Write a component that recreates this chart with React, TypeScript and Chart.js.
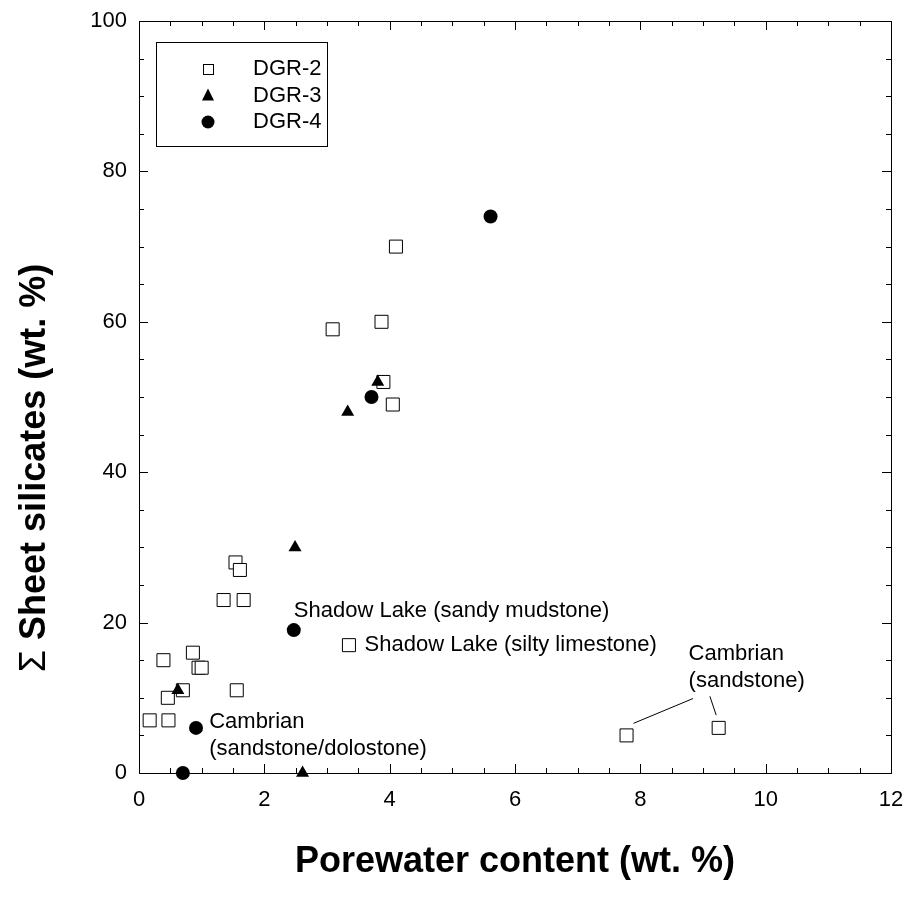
import React, { useEffect, useRef } from "react";
import { Chart, registerables } from "chart.js";

Chart.register(...registerables);

// ---- data ----
const dgr2X = [0.17, 0.47, 0.46, 0.70, 0.39, 0.86, 0.95, 1.0, 1.56, 1.35, 1.67, 1.54, 1.61, 3.35, 3.09, 3.87, 4.10, 3.90, 4.05, 7.78, 9.25];
const dgr2Y = [7, 7, 10, 11, 15, 16, 14, 14, 11, 23, 23, 28, 27, 17, 59, 60, 70, 52, 49, 5, 6];
const dgr3X = [0.62, 2.49, 3.33, 3.81, 2.61];
const dgr3Y = [11, 30, 48, 52, 0];
const dgr4X = [0.91, 0.70, 2.47, 3.71, 5.61];
const dgr4Y = [6, 0, 19, 50, 74];

const seriesNames = ["DGR-2", "DGR-3", "DGR-4"];

const xTickValues = [0, 2, 4, 6, 8, 10, 12];
const yTickValues = [0, 20, 40, 60, 80, 100];

const annotationTexts = [
  "Shadow Lake (sandy mudstone)",
  "Shadow Lake (silty limestone)",
  "Cambrian",
  "(sandstone/dolostone)",
  "Cambrian",
  "(sandstone)",
];
const annotationX = [2.47, 3.6, 1.12, 1.12, 8.77, 8.77];
const annotationY = [21.5, 17.0, 6.8, 3.2, 15.8, 12.2];

const leaderX1 = [7.89, 9.11];
const leaderY1 = [6.6, 10.2];
const leaderX2 = [8.84, 9.21];
const leaderY2 = [9.9, 7.7];

const xTitle = "Porewater content (wt. %)";
const yTitleSymbol = "\u03A3";
const yTitleText = "Sheet silicates (wt. %)";

const FONT = "'Liberation Sans', Arial, Helvetica, sans-serif";

const toPoints = (xs: number[], ys: number[]) => xs.map((x, i) => ({ x, y: ys[i] }));

function drawMarker(ctx: CanvasRenderingContext2D, kind: string, x: number, y: number) {
  ctx.save();
  ctx.lineWidth = 1;
  ctx.strokeStyle = "#000";
  ctx.fillStyle = "#000";
  if (kind === "rect") {
    ctx.fillStyle = "#fff";
    ctx.fillRect(x - 5, y - 5, 10, 10);
    ctx.strokeRect(x - 5 + 0.5, y - 5 + 0.5, 10, 10);
  } else if (kind === "triangle") {
    ctx.beginPath();
    ctx.moveTo(x, y - 7);
    ctx.lineTo(x - 6, y + 5);
    ctx.lineTo(x + 6, y + 5);
    ctx.closePath();
    ctx.fill();
  } else {
    ctx.beginPath();
    ctx.arc(x, y, 6.5, 0, Math.PI * 2);
    ctx.fill();
  }
  ctx.restore();
}

const framePlugin = {
  id: "frame",
  afterDatasetsDraw(chart: any) {
    const { ctx, chartArea } = chart;
    const xs = chart.scales.x;
    const ys = chart.scales.y;
    const { left, right, top, bottom } = chartArea;
    ctx.save();
    ctx.strokeStyle = "#000";
    ctx.lineWidth = 1;
    ctx.strokeRect(Math.round(left) + 0.5, Math.round(top) + 0.5, Math.round(right - left), Math.round(bottom - top));

    // inward ticks on all four sides
    ctx.beginPath();
    for (let v = 0; v <= 12.0001; v += 0.5) {
      const px = Math.round(xs.getPixelForValue(v)) + 0.5;
      const len = Math.abs(v % 2) < 1e-6 ? 9 : 5;
      ctx.moveTo(px, bottom);
      ctx.lineTo(px, bottom - len);
      ctx.moveTo(px, top);
      ctx.lineTo(px, top + len);
    }
    for (let v = 0; v <= 100.0001; v += 5) {
      const py = Math.round(ys.getPixelForValue(v)) + 0.5;
      const len = Math.abs(v % 20) < 1e-6 ? 9 : 5;
      ctx.moveTo(left, py);
      ctx.lineTo(left + len, py);
      ctx.moveTo(right, py);
      ctx.lineTo(right - len, py);
    }
    ctx.stroke();

    // leader lines
    ctx.beginPath();
    for (let i = 0; i < leaderX1.length; i++) {
      ctx.moveTo(xs.getPixelForValue(leaderX1[i]), ys.getPixelForValue(leaderY1[i]));
      ctx.lineTo(xs.getPixelForValue(leaderX2[i]), ys.getPixelForValue(leaderY2[i]));
    }
    ctx.stroke();

    // annotations
    ctx.fillStyle = "#000";
    ctx.font = `22px ${FONT}`;
    ctx.textAlign = "left";
    ctx.textBaseline = "middle";
    annotationTexts.forEach((t, i) => {
      ctx.fillText(t, xs.getPixelForValue(annotationX[i]), ys.getPixelForValue(annotationY[i]));
    });

    // legend
    const lx = left + 17;
    const ly = top + 21;
    ctx.fillStyle = "#fff";
    ctx.fillRect(lx, ly, 171, 104);
    ctx.strokeRect(lx + 0.5, ly + 0.5, 171, 104);
    const kinds = ["rect", "triangle", "circle"];
    ctx.fillStyle = "#000";
    ctx.font = `22px ${FONT}`;
    seriesNames.forEach((name, i) => {
      const ry = ly + 27 + i * 26.5;
      drawMarker(ctx, kinds[i], lx + 52, ry);
      ctx.fillStyle = "#000";
      ctx.fillText(name, lx + 97, ry);
    });

    // axis titles
    ctx.font = `bold 36px ${FONT}`;
    ctx.textAlign = "center";
    ctx.textBaseline = "middle";
    ctx.fillText(xTitle, (left + right) / 2, 862);

    ctx.translate(35, 468);
    ctx.rotate(-Math.PI / 2);
    ctx.font = `36px ${FONT}`;
    const symW = ctx.measureText(yTitleSymbol + " ").width;
    ctx.font = `bold 36px ${FONT}`;
    const txtW = ctx.measureText(yTitleText).width;
    const total = symW + txtW;
    ctx.textAlign = "left";
    ctx.font = `36px ${FONT}`;
    ctx.fillText(yTitleSymbol, -total / 2, 0);
    ctx.font = `bold 36px ${FONT}`;
    ctx.fillText(yTitleText, -total / 2 + symW, 0);
    ctx.restore();
  },
};

export default function App() {
  const canvasRef = useRef<HTMLCanvasElement | null>(null);

  useEffect(() => {
    if (!canvasRef.current) return;
    const chart = new Chart(canvasRef.current, {
      type: "scatter",
      data: {
        datasets: [
          {
            label: seriesNames[0],
            data: toPoints(dgr2X, dgr2Y),
            pointStyle: "rect",
            pointRadius: 9.2,
            pointHoverRadius: 9.2,
            backgroundColor: "#ffffff",
            borderColor: "#000000",
            borderWidth: 1,
            clip: false as any,
            order: 2,
          },
          {
            label: seriesNames[1],
            data: toPoints(dgr3X, dgr3Y),
            pointStyle: "triangle",
            pointRadius: 7.5,
            pointHoverRadius: 7.5,
            backgroundColor: "#000000",
            borderColor: "#000000",
            borderWidth: 0,
            clip: false as any,
            order: 1,
          },
          {
            label: seriesNames[2],
            data: toPoints(dgr4X, dgr4Y),
            pointStyle: "circle",
            pointRadius: 7,
            pointHoverRadius: 7,
            backgroundColor: "#000000",
            borderColor: "#000000",
            borderWidth: 0,
            clip: false as any,
            order: 0,
          },
        ],
      },
      options: {
        responsive: false,
        animation: false,
        devicePixelRatio: 1,
        layout: { padding: { top: 21, right: 18, left: 0, bottom: 0 } },
        plugins: { legend: { display: false }, tooltip: { enabled: false } },
        scales: {
          x: {
            type: "linear",
            min: 0,
            max: 12,
            afterBuildTicks: (scale: any) => {
              scale.ticks = xTickValues.map((v) => ({ value: v }));
            },
            ticks: { color: "#000", font: { family: FONT, size: 22 }, padding: 14, maxRotation: 0 },
            grid: { display: false, drawTicks: false },
            border: { display: false },
            afterFit: (scale: any) => {
              scale.height = 130;
              scale.paddingLeft = 0;
              scale.paddingRight = 0;
            },
          },
          y: {
            type: "linear",
            min: 0,
            max: 100,
            afterBuildTicks: (scale: any) => {
              scale.ticks = yTickValues.map((v) => ({ value: v }));
            },
            ticks: { color: "#000", font: { family: FONT, size: 22 }, padding: 12 },
            grid: { display: false, drawTicks: false },
            border: { display: false },
            afterFit: (scale: any) => {
              scale.width = 139;
              scale.paddingTop = 0;
              scale.paddingBottom = 0;
            },
          },
        },
      },
      plugins: [framePlugin],
    });
    return () => chart.destroy();
  }, []);

  return (
    <div style={{ position: "absolute", left: 0, top: 0, width: 909, height: 903, background: "#fff" }}>
      <canvas ref={canvasRef} width={909} height={903} style={{ display: "block" }} />
    </div>
  );
}
